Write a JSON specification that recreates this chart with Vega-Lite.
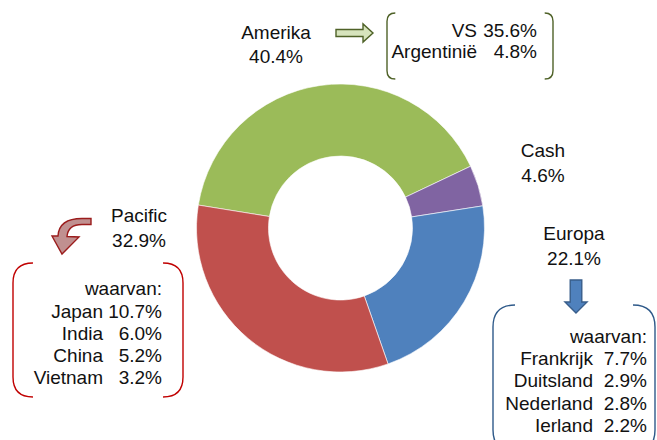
{
  "$schema": "https://vega.github.io/schema/vega-lite/v6.json",
  "width": 657,
  "height": 440,
  "padding": 0,
  "autosize": {"type": "none"},
  "background": "#ffffff",
  "config": {"view": {"stroke": null}, "axis": {"disable": true}, "text": {"font": "Liberation Sans", "fontSize": 19, "color": "#111111", "baseline": "alphabetic"}},
  "datasets": {
    "regions": [
      {"region": "Amerika", "share": 0.404, "order": 4},
      {"region": "Cash", "share": 0.046, "order": 1},
      {"region": "Europa", "share": 0.221, "order": 2},
      {"region": "Pacific", "share": 0.329, "order": 3}
    ],
    "breakdown": [
      {"group": "Amerika", "country": "VS", "share": 0.356, "rank": 1},
      {"group": "Amerika", "country": "Argentinië", "share": 0.048, "rank": 2},
      {"group": "Pacific", "country": "Japan", "share": 0.107, "rank": 1},
      {"group": "Pacific", "country": "India", "share": 0.060, "rank": 2},
      {"group": "Pacific", "country": "China", "share": 0.052, "rank": 3},
      {"group": "Pacific", "country": "Vietnam", "share": 0.032, "rank": 4},
      {"group": "Europa", "country": "Frankrijk", "share": 0.077, "rank": 1},
      {"group": "Europa", "country": "Duitsland", "share": 0.029, "rank": 2},
      {"group": "Europa", "country": "Nederland", "share": 0.028, "rank": 3},
      {"group": "Europa", "country": "Ierland", "share": 0.022, "rank": 4}
    ],
    "one": [{"item": "decoration"}]
  },
  "resolve": {"scale": {"y": "independent"}},
  "layer": [
    {
      "data": {"name": "regions"},
      "mark": {"type": "arc", "outerRadius": 144, "innerRadius": 72, "stroke": "#ffffff", "strokeWidth": 0.6},
      "encoding": {
        "x": {"datum": 340.5, "type": "quantitative", "axis": null, "scale": {"domain": [0, 657], "nice": false, "zero": false}},
        "y": {"datum": 228, "type": "quantitative", "axis": null, "scale": {"domain": [440, 0], "nice": false, "zero": false}},
        "theta": {"field": "share", "type": "quantitative", "stack": true, "scale": {"range": [1.1275, 7.4107]}},
        "order": {"field": "order", "type": "quantitative"},
        "color": {"field": "region", "type": "nominal", "scale": {"domain": ["Amerika", "Cash", "Europa", "Pacific"], "range": ["#9BBB59", "#8064A2", "#4F81BD", "#C0504D"]}, "legend": null}
      }
    },
    {
      "data": {"name": "regions"},
      "transform": [{"filter": "datum.region === 'Amerika'"}],
      "mark": {"type": "text", "align": "center"},
      "encoding": {
        "x": {"datum": 276, "type": "quantitative", "axis": null, "scale": {"domain": [0, 657], "nice": false, "zero": false}},
        "y": {"datum": 39, "type": "quantitative", "axis": null, "scale": {"domain": [440, 0], "nice": false, "zero": false}},
        "text": {"field": "region"}
      }
    },
    {
      "data": {"name": "regions"},
      "transform": [{"filter": "datum.region === 'Amerika'"}],
      "mark": {"type": "text", "align": "center"},
      "encoding": {
        "x": {"datum": 276, "type": "quantitative", "axis": null, "scale": {"domain": [0, 657], "nice": false, "zero": false}},
        "y": {"datum": 63, "type": "quantitative", "axis": null, "scale": {"domain": [440, 0], "nice": false, "zero": false}},
        "text": {"field": "share", "type": "quantitative", "format": ".1%"}
      }
    },
    {
      "data": {"name": "regions"},
      "transform": [{"filter": "datum.region === 'Cash'"}],
      "mark": {"type": "text", "align": "center"},
      "encoding": {
        "x": {"datum": 543, "type": "quantitative", "axis": null, "scale": {"domain": [0, 657], "nice": false, "zero": false}},
        "y": {"datum": 157, "type": "quantitative", "axis": null, "scale": {"domain": [440, 0], "nice": false, "zero": false}},
        "text": {"field": "region"}
      }
    },
    {
      "data": {"name": "regions"},
      "transform": [{"filter": "datum.region === 'Cash'"}],
      "mark": {"type": "text", "align": "center"},
      "encoding": {
        "x": {"datum": 543, "type": "quantitative", "axis": null, "scale": {"domain": [0, 657], "nice": false, "zero": false}},
        "y": {"datum": 182, "type": "quantitative", "axis": null, "scale": {"domain": [440, 0], "nice": false, "zero": false}},
        "text": {"field": "share", "type": "quantitative", "format": ".1%"}
      }
    },
    {
      "data": {"name": "regions"},
      "transform": [{"filter": "datum.region === 'Europa'"}],
      "mark": {"type": "text", "align": "center"},
      "encoding": {
        "x": {"datum": 574, "type": "quantitative", "axis": null, "scale": {"domain": [0, 657], "nice": false, "zero": false}},
        "y": {"datum": 240, "type": "quantitative", "axis": null, "scale": {"domain": [440, 0], "nice": false, "zero": false}},
        "text": {"field": "region"}
      }
    },
    {
      "data": {"name": "regions"},
      "transform": [{"filter": "datum.region === 'Europa'"}],
      "mark": {"type": "text", "align": "center"},
      "encoding": {
        "x": {"datum": 574, "type": "quantitative", "axis": null, "scale": {"domain": [0, 657], "nice": false, "zero": false}},
        "y": {"datum": 265, "type": "quantitative", "axis": null, "scale": {"domain": [440, 0], "nice": false, "zero": false}},
        "text": {"field": "share", "type": "quantitative", "format": ".1%"}
      }
    },
    {
      "data": {"name": "regions"},
      "transform": [{"filter": "datum.region === 'Pacific'"}],
      "mark": {"type": "text", "align": "center"},
      "encoding": {
        "x": {"datum": 139, "type": "quantitative", "axis": null, "scale": {"domain": [0, 657], "nice": false, "zero": false}},
        "y": {"datum": 222, "type": "quantitative", "axis": null, "scale": {"domain": [440, 0], "nice": false, "zero": false}},
        "text": {"field": "region"}
      }
    },
    {
      "data": {"name": "regions"},
      "transform": [{"filter": "datum.region === 'Pacific'"}],
      "mark": {"type": "text", "align": "center"},
      "encoding": {
        "x": {"datum": 139, "type": "quantitative", "axis": null, "scale": {"domain": [0, 657], "nice": false, "zero": false}},
        "y": {"datum": 247, "type": "quantitative", "axis": null, "scale": {"domain": [440, 0], "nice": false, "zero": false}},
        "text": {"field": "share", "type": "quantitative", "format": ".1%"}
      }
    },
    {
      "data": {"name": "breakdown"},
      "transform": [{"filter": "datum.group === 'Amerika'"}],
      "mark": {"type": "text", "align": "right"},
      "encoding": {
        "x": {"datum": 477, "type": "quantitative", "axis": null, "scale": {"domain": [0, 657], "nice": false, "zero": false}},
        "y": {"field": "rank", "type": "quantitative", "axis": null, "scale": {"domain": [1, 2], "range": [37, 58], "nice": false, "zero": false}},
        "text": {"field": "country"}
      }
    },
    {
      "data": {"name": "breakdown"},
      "transform": [{"filter": "datum.group === 'Amerika'"}],
      "mark": {"type": "text", "align": "right"},
      "encoding": {
        "x": {"datum": 537, "type": "quantitative", "axis": null, "scale": {"domain": [0, 657], "nice": false, "zero": false}},
        "y": {"field": "rank", "type": "quantitative", "axis": null, "scale": {"domain": [1, 2], "range": [37, 58], "nice": false, "zero": false}},
        "text": {"field": "share", "type": "quantitative", "format": ".1%"}
      }
    },
    {
      "data": {"name": "breakdown"},
      "transform": [{"filter": "datum.group === 'Pacific'"}],
      "mark": {"type": "text", "align": "right"},
      "encoding": {
        "x": {"datum": 103, "type": "quantitative", "axis": null, "scale": {"domain": [0, 657], "nice": false, "zero": false}},
        "y": {"field": "rank", "type": "quantitative", "axis": null, "scale": {"domain": [1, 4], "range": [317.5, 384], "nice": false, "zero": false}},
        "text": {"field": "country"}
      }
    },
    {
      "data": {"name": "breakdown"},
      "transform": [{"filter": "datum.group === 'Pacific'"}],
      "mark": {"type": "text", "align": "right"},
      "encoding": {
        "x": {"datum": 162, "type": "quantitative", "axis": null, "scale": {"domain": [0, 657], "nice": false, "zero": false}},
        "y": {"field": "rank", "type": "quantitative", "axis": null, "scale": {"domain": [1, 4], "range": [317.5, 384], "nice": false, "zero": false}},
        "text": {"field": "share", "type": "quantitative", "format": ".1%"}
      }
    },
    {
      "data": {"name": "breakdown"},
      "transform": [{"filter": "datum.group === 'Europa'"}],
      "mark": {"type": "text", "align": "right"},
      "encoding": {
        "x": {"datum": 593, "type": "quantitative", "axis": null, "scale": {"domain": [0, 657], "nice": false, "zero": false}},
        "y": {"field": "rank", "type": "quantitative", "axis": null, "scale": {"domain": [1, 4], "range": [365, 432], "nice": false, "zero": false}},
        "text": {"field": "country"}
      }
    },
    {
      "data": {"name": "breakdown"},
      "transform": [{"filter": "datum.group === 'Europa'"}],
      "mark": {"type": "text", "align": "right"},
      "encoding": {
        "x": {"datum": 647, "type": "quantitative", "axis": null, "scale": {"domain": [0, 657], "nice": false, "zero": false}},
        "y": {"field": "rank", "type": "quantitative", "axis": null, "scale": {"domain": [1, 4], "range": [365, 432], "nice": false, "zero": false}},
        "text": {"field": "share", "type": "quantitative", "format": ".1%"}
      }
    },
    {
      "data": {"name": "one"},
      "mark": {"type": "text", "align": "right", "text": "waarvan:"},
      "encoding": {
        "x": {"datum": 162, "type": "quantitative", "axis": null, "scale": {"domain": [0, 657], "nice": false, "zero": false}},
        "y": {"datum": 295, "type": "quantitative", "axis": null, "scale": {"domain": [440, 0], "nice": false, "zero": false}}
      }
    },
    {
      "data": {"name": "one"},
      "mark": {"type": "text", "align": "right", "text": "waarvan:"},
      "encoding": {
        "x": {"datum": 647, "type": "quantitative", "axis": null, "scale": {"domain": [0, 657], "nice": false, "zero": false}},
        "y": {"datum": 343, "type": "quantitative", "axis": null, "scale": {"domain": [440, 0], "nice": false, "zero": false}}
      }
    },
    {
      "data": {"name": "one"},
      "mark": {"type": "point", "filled": false, "opacity": 1, "fill": "transparent", "stroke": "#4F6228", "strokeWidth": 1.4, "size": 27556,
        "shape": "M-0.9,-0.398 Q-1,-0.398 -1,-0.298 L-1,0.298 Q-1,0.398 -0.9,0.398 M0.9,-0.398 Q1,-0.398 1,-0.298 L1,0.298 Q1,0.398 0.9,0.398"},
      "encoding": {
        "x": {"datum": 470, "type": "quantitative", "axis": null, "scale": {"domain": [0, 657], "nice": false, "zero": false}},
        "y": {"datum": 46, "type": "quantitative", "axis": null, "scale": {"domain": [440, 0], "nice": false, "zero": false}}
      }
    },
    {
      "data": {"name": "one"},
      "mark": {"type": "point", "filled": false, "opacity": 1, "fill": "transparent", "stroke": "#C00000", "strokeWidth": 1.4, "size": 28900,
        "shape": "M-0.765,-0.788 Q-1,-0.788 -1,-0.553 L-1,0.553 Q-1,0.788 -0.765,0.788 M0.765,-0.788 Q1,-0.788 1,-0.553 L1,0.553 Q1,0.788 0.765,0.788"},
      "encoding": {
        "x": {"datum": 98, "type": "quantitative", "axis": null, "scale": {"domain": [0, 657], "nice": false, "zero": false}},
        "y": {"datum": 330, "type": "quantitative", "axis": null, "scale": {"domain": [440, 0], "nice": false, "zero": false}}
      }
    },
    {
      "data": {"name": "one"},
      "mark": {"type": "point", "filled": false, "opacity": 1, "fill": "transparent", "stroke": "#2F5A8A", "strokeWidth": 1.4, "size": 26244,
        "shape": "M-0.728,-0.907 Q-1,-0.907 -1,-0.635 L-1,0.635 Q-1,0.907 -0.728,0.907 M0.728,-0.907 Q1,-0.907 1,-0.635 L1,0.635 Q1,0.907 0.728,0.907"},
      "encoding": {
        "x": {"datum": 574, "type": "quantitative", "axis": null, "scale": {"domain": [0, 657], "nice": false, "zero": false}},
        "y": {"datum": 378.5, "type": "quantitative", "axis": null, "scale": {"domain": [440, 0], "nice": false, "zero": false}}
      }
    },
    {
      "data": {"name": "one"},
      "mark": {"type": "point", "filled": true, "opacity": 1, "fill": "#D7E4BD", "stroke": "#4F6228", "strokeWidth": 1.4, "size": 1369,
        "shape": "M-1,-0.19 L0.46,-0.19 L0.46,-0.49 L1,0 L0.46,0.49 L0.46,0.19 L-1,0.19 Z"},
      "encoding": {
        "x": {"datum": 354.5, "type": "quantitative", "axis": null, "scale": {"domain": [0, 657], "nice": false, "zero": false}},
        "y": {"datum": 33, "type": "quantitative", "axis": null, "scale": {"domain": [440, 0], "nice": false, "zero": false}}
      }
    },
    {
      "data": {"name": "one"},
      "mark": {"type": "point", "filled": true, "opacity": 1, "fill": "#4F81BD", "stroke": "#385D8A", "strokeWidth": 1.4, "size": 1089,
        "shape": "M-0.35,-1 L0.35,-1 L0.35,0.33 L0.67,0.33 L0,1 L-0.67,0.33 L-0.35,0.33 Z"},
      "encoding": {
        "x": {"datum": 576, "type": "quantitative", "axis": null, "scale": {"domain": [0, 657], "nice": false, "zero": false}},
        "y": {"datum": 296.5, "type": "quantitative", "axis": null, "scale": {"domain": [440, 0], "nice": false, "zero": false}}
      }
    },
    {
      "data": {"name": "one"},
      "mark": {"type": "point", "filled": true, "opacity": 1, "fill": "#C09090", "stroke": "#9B1C1C", "strokeWidth": 1.4, "size": 1600,
        "shape": "M0.95,-0.875 L0.5,-0.875 Q-0.65,-0.875 -0.7,0 L-1,0 L-0.5,0.9 L0.35,0.05 L-0.25,0.025 Q-0.2,-0.575 0.5,-0.575 L0.95,-0.575 Z"},
      "encoding": {
        "x": {"datum": 72, "type": "quantitative", "axis": null, "scale": {"domain": [0, 657], "nice": false, "zero": false}},
        "y": {"datum": 236, "type": "quantitative", "axis": null, "scale": {"domain": [440, 0], "nice": false, "zero": false}}
      }
    }
  ]
}
